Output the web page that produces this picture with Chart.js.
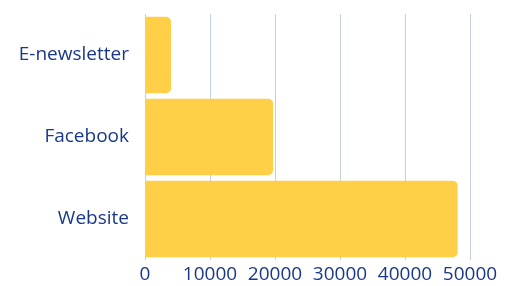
<!DOCTYPE html>
<html>
<head>
<meta charset="utf-8">
<script src="https://cdn.jsdelivr.net/npm/chart.js@4/dist/chart.umd.min.js"></script>
<style>
  html, body { margin: 0; padding: 0; background: #fff; }
  #wrap { width: 512px; height: 286px; }
</style>
</head>
<body>
<div id="wrap"><canvas id="chart"></canvas></div>
<script>
const categories = ['E-newsletter', 'Facebook', 'Website'];
const visits = [4000, 19700, 48100];
const xTicks = [0, 10000, 20000, 30000, 40000, 50000];

const navy = '#1a3889';

const ctx = document.getElementById('chart').getContext('2d');
new Chart(ctx, {
  type: 'bar',
  data: {
    labels: categories,
    datasets: [{
      data: visits,
      backgroundColor: '#ffcf47',
      borderRadius: 5,
      borderSkipped: 'start',
      barPercentage: 0.93,
      categoryPercentage: 1
    }]
  },
  options: {
    indexAxis: 'y',
    responsive: true,
    maintainAspectRatio: false,
    animation: false,
    layout: { padding: { top: 14, right: 42, left: 0, bottom: 0 } },
    plugins: { legend: { display: false }, tooltip: { enabled: false } },
    scales: {
      x: {
        min: 0,
        max: 50000,
        afterBuildTicks: (axis) => { axis.ticks = xTicks.map(v => ({ value: v })); },
        afterFit: (axis) => { axis.height = 26; },
        grid: { color: '#c6cee3', drawTicks: false, lineWidth: 1 },
        border: { display: false },
        ticks: {
          color: navy, padding: 3,
          font: { family: 'Open Sans', size: 19 },
          callback: (v) => String(v)
        }
      },
      y: {
        afterFit: (axis) => { axis.width = 145; axis.paddingTop = 0; axis.paddingBottom = 0; },
        grid: { display: false },
        border: { display: false },
        ticks: { color: navy, padding: 8, font: { family: 'Open Sans', size: 19 } }
      }
    }
  }
});
</script>
</body>
</html>
